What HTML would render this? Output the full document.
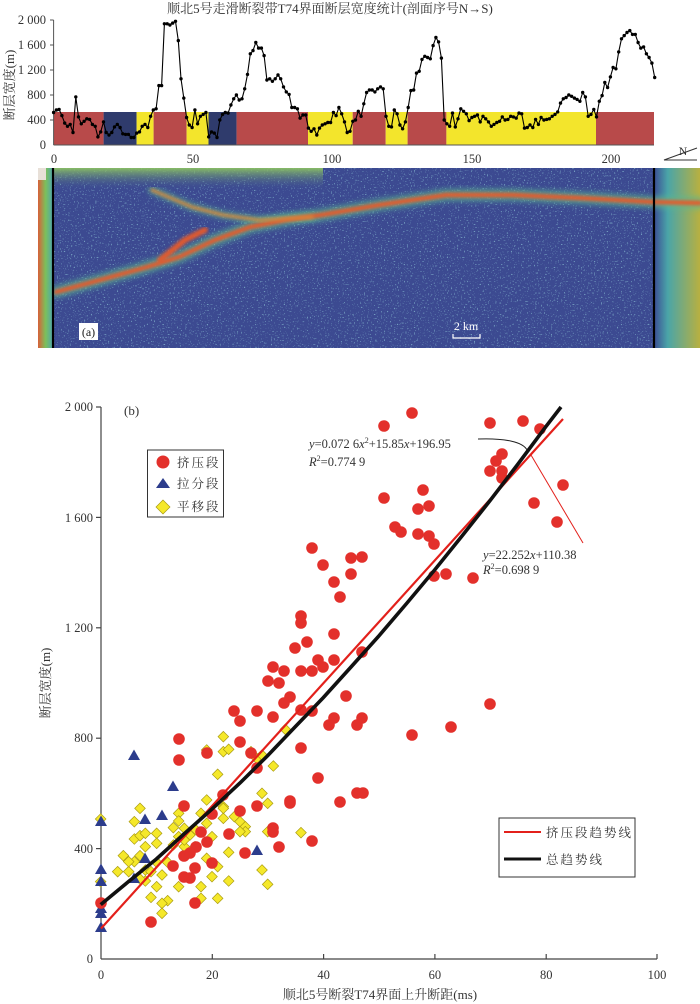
<!DOCTYPE html>
<html><head><meta charset="utf-8"><style>
html,body{margin:0;padding:0;background:#fff;}
svg{display:block;}
text{font-family:"Liberation Serif","Noto Serif CJK SC",serif;fill:#333;}
.cjk{font-family:"Liberation Serif","Noto Serif CJK SC",serif;}
</style></head><body>
<svg width="700" height="1004" viewBox="0 0 700 1004" xmlns="http://www.w3.org/2000/svg">
<defs>
<linearGradient id="lg" x1="0" x2="1"><stop offset="0" stop-color="#d9603a"/><stop offset="0.5" stop-color="#7cc05a"/><stop offset="1" stop-color="#4fa6b0"/></linearGradient>
<linearGradient id="rg" x1="0" x2="1"><stop offset="0" stop-color="#3c4d95"/><stop offset="0.3" stop-color="#4aa5a8"/><stop offset="1" stop-color="#b8b040"/></linearGradient>
<linearGradient id="tg" x1="0" x2="0" y1="0" y2="1"><stop offset="0" stop-color="#8fc860" stop-opacity="0.9"/><stop offset="1" stop-color="#3c4d95" stop-opacity="0"/></linearGradient>
<filter id="bl"><feGaussianBlur stdDeviation="1.6"/></filter>
<filter id="bl2"><feGaussianBlur stdDeviation="3"/></filter>
<filter id="speck" x="0" y="0" width="1" height="1">
<feTurbulence type="fractalNoise" baseFrequency="0.7" numOctaves="1" seed="3"/>
<feColorMatrix type="matrix" values="0 0 0 0 0.35  0 0 0 0 0.75  0 0 0 0 0.8  9 0 0 0 -5.6"/>
</filter>
</defs>

<!-- Top chart -->
<text x="330" y="13" font-size="13" text-anchor="middle" class="cjk">顺北5号走滑断裂带T74界面断层宽度统计(剖面序号N→S)</text>
<g font-size="12.5" text-anchor="end">
<text x="46" y="24">2 000</text><text x="46" y="49">1 600</text><text x="46" y="74">1 200</text><text x="46" y="99">800</text><text x="46" y="124">400</text><text x="46" y="149">0</text>
</g>
<text transform="translate(14,85) rotate(-90)" font-size="13" text-anchor="middle" class="cjk">断层宽度(m)</text>
<g font-size="12.5" text-anchor="middle">
<text x="54" y="163">0</text><text x="193" y="163">50</text><text x="332" y="163">100</text><text x="472" y="163">150</text><text x="611" y="163">200</text>
</g>
<g>
<rect x="53.6" y="112" width="50" height="33" fill="#b84a4a"/>
<rect x="103.6" y="112" width="33" height="33" fill="#2f3b6c"/>
<rect x="136.6" y="112" width="17" height="33" fill="#f3e52c"/>
<rect x="153.6" y="112" width="33" height="33" fill="#b84a4a"/>
<rect x="186.6" y="112" width="21.9" height="33" fill="#f3e52c"/>
<rect x="208.5" y="112" width="28.1" height="33" fill="#2f3b6c"/>
<rect x="236.6" y="112" width="71.4" height="33" fill="#b84a4a"/>
<rect x="308" y="112" width="44.7" height="33" fill="#f3e52c"/>
<rect x="352.7" y="112" width="33" height="33" fill="#b84a4a"/>
<rect x="385.7" y="112" width="21.9" height="33" fill="#f3e52c"/>
<rect x="407.6" y="112" width="38.8" height="33" fill="#b84a4a"/>
<rect x="446.4" y="112" width="149.6" height="33" fill="#f3e52c"/>
<rect x="596" y="112" width="58" height="33" fill="#b84a4a"/>
</g>
<line x1="53.6" y1="20" x2="53.6" y2="145" stroke="#555" stroke-width="1"/>
<line x1="53.6" y1="145" x2="654" y2="145" stroke="#555" stroke-width="1"/>
<g stroke="#555">
<line x1="50" y1="20" x2="53.6" y2="20"/><line x1="50" y1="45" x2="53.6" y2="45"/><line x1="50" y1="70" x2="53.6" y2="70"/><line x1="50" y1="95" x2="53.6" y2="95"/><line x1="50" y1="120" x2="53.6" y2="120"/>
</g>
<g id="topline"></g>
<text x="683" y="155" font-size="12" text-anchor="middle" font-family="Liberation Sans">N</text>
<polyline points="697,148 664,160 697,160" fill="none" stroke="#333" stroke-width="1"/>

<!-- Heatmap -->
<rect x="38" y="168" width="662" height="180" fill="#3c4a91"/>
<rect x="38" y="168" width="662" height="180" filter="url(#speck)" opacity="0.55"/>
<rect x="53" y="168" width="270" height="22" fill="url(#tg)"/>
<rect x="38" y="168" width="15" height="180" fill="url(#lg)"/>
<rect x="38" y="168" width="8" height="12" fill="#e8e0d8"/>
<rect x="654" y="168" width="46" height="180" fill="url(#rg)"/>
<g fill="none" stroke-linecap="round" stroke-linejoin="round">
<polyline points="56,292 100,280 147,267 179,257 215,240 250,227 285,220 321,215 379,205 446,195 513,195 580,198 654,202 700,203" stroke="#5cb890" stroke-width="12" opacity="0.7" filter="url(#bl2)"/>
<polyline points="152,190 192,207 223,215 259,220 312,217" stroke="#5cb890" stroke-width="8" opacity="0.6" filter="url(#bl2)"/>
<polyline points="56,292 100,280 147,267 179,257 215,240 250,227 285,220 321,215 379,205 446,195 513,195 580,198 654,202 700,203" stroke="#e65a2a" stroke-width="4.5" filter="url(#bl)"/>
<polyline points="152,190 192,207 223,215 259,220 312,217" stroke="#d8883a" stroke-width="3" filter="url(#bl)"/>
<polyline points="160,260 185,240 205,230" stroke="#e05a2e" stroke-width="6" filter="url(#bl)"/>
</g>
<line x1="53" y1="168" x2="53" y2="348" stroke="#000" stroke-width="2.2"/>
<line x1="654" y1="168" x2="654" y2="348" stroke="#000" stroke-width="2.2"/>
<rect x="79" y="323" width="19" height="17" fill="#fff"/>
<text x="88.5" y="336" font-size="12" text-anchor="middle" style="fill:#222">(a)</text>
<text x="466" y="330" font-size="12" text-anchor="middle" style="fill:#fff">2 km</text>
<polyline points="453,334 453,338 480,338 480,334" fill="none" stroke="#fff" stroke-width="1.2"/>

<!-- Scatter chart -->
<g stroke="#444" stroke-width="1.2">
<line x1="101" y1="407" x2="101" y2="959"/>
<line x1="101" y1="959" x2="657" y2="959"/>
<line x1="96" y1="407" x2="101" y2="407"/><line x1="96" y1="517.4" x2="101" y2="517.4"/><line x1="96" y1="627.8" x2="101" y2="627.8"/><line x1="96" y1="738.2" x2="101" y2="738.2"/><line x1="96" y1="848.6" x2="101" y2="848.6"/>
<line x1="212.3" y1="954" x2="212.3" y2="959"/><line x1="323.6" y1="954" x2="323.6" y2="959"/><line x1="434.9" y1="954" x2="434.9" y2="959"/><line x1="546.2" y1="954" x2="546.2" y2="959"/><line x1="657" y1="954" x2="657" y2="959"/>
</g>
<g font-size="12.5" text-anchor="end">
<text x="93" y="411">2 000</text><text x="93" y="522">1 600</text><text x="93" y="632">1 200</text><text x="93" y="742">800</text><text x="93" y="853">400</text><text x="93" y="963">0</text>
</g>
<g font-size="12.5" text-anchor="middle">
<text x="101" y="979">0</text><text x="212.3" y="979">20</text><text x="323.6" y="979">40</text><text x="434.9" y="979">60</text><text x="546.2" y="979">80</text><text x="657" y="979">100</text>
</g>
<text x="380" y="999" font-size="13" text-anchor="middle" class="cjk">顺北5号断裂T74界面上升断距(ms)</text>
<text transform="translate(50,683) rotate(-90)" font-size="13" text-anchor="middle" class="cjk">断层宽度(m)</text>
<text x="124" y="415" font-size="13">(b)</text>

<g transform="translate(40,690) scale(0.33333)" fill="#f5e82a" stroke="#a89a10" stroke-width="2">
<g id="dia"></g>
</g>
<g fill="#2c3c8c" id="tri"></g>
<g fill="#e3302b" id="red"></g>

<line x1="101" y1="928.5" x2="563" y2="419" stroke="#e3201b" stroke-width="2.2"/>
<polyline points="100.7,904.6 128,882 156.4,859 184,834 212,809.1 240,783 267.7,755.6 295,727 323.3,697.6 351,667 379,635.8 407,603 434.6,570 462,536 490.3,500.3 518,464 545.9,426.6 561,407" fill="none" stroke="#111" stroke-width="3.6"/>
<path d="M478,439 C505,438 523,442 527,450" fill="none" stroke="#222" stroke-width="1"/>
<line x1="531" y1="455" x2="583" y2="543" stroke="#e3201b" stroke-width="1"/>
<text x="309" y="448" font-size="12.5"><tspan font-style="italic">y</tspan>=0.072 6<tspan font-style="italic">x</tspan><tspan font-size="8" dy="-5">2</tspan><tspan dy="5">+15.85</tspan><tspan font-style="italic">x</tspan>+196.95</text>
<text x="309" y="466" font-size="12.5"><tspan font-style="italic">R</tspan><tspan font-size="8" dy="-5">2</tspan><tspan dy="5">=0.774 9</tspan></text>
<text x="483" y="559" font-size="12.5"><tspan font-style="italic">y</tspan>=22.252<tspan font-style="italic">x</tspan>+110.38</text>
<text x="483" y="574" font-size="12.5"><tspan font-style="italic">R</tspan><tspan font-size="8" dy="-5">2</tspan><tspan dy="5">=0.698 9</tspan></text>

<rect x="147.5" y="450" width="76" height="67" fill="#fff" stroke="#333" stroke-width="1"/>
<circle cx="163" cy="462" r="6.5" fill="#e3302b"/>
<polygon points="163,478 170,488 156,488" fill="#2c3c8c"/>
<polygon points="163,500 170,507 163,514 156,507" fill="#f5e82a" stroke="#a89a10" stroke-width="0.7"/>
<g font-size="12.5" class="cjk" letter-spacing="2"><text x="177" y="467">挤压段</text><text x="177" y="488">拉分段</text><text x="177" y="511">平移段</text></g>

<rect x="499" y="818" width="136" height="59" fill="#fff" stroke="#333" stroke-width="1"/>
<line x1="504" y1="832" x2="541" y2="832" stroke="#e3201b" stroke-width="2"/>
<line x1="504" y1="859" x2="541" y2="859" stroke="#111" stroke-width="3"/>
<g font-size="12.5" class="cjk" letter-spacing="2"><text x="546" y="837">挤压段趋势线</text><text x="546" y="864">总趋势线</text></g>
</svg>
<script>
var NS="http://www.w3.org/2000/svg";
function el(n,a,p){var e=document.createElementNS(NS,n);for(var k in a)e.setAttribute(k,a[k]);p.appendChild(e);return e;}
var v=[520,560,570,470,350,300,330,200,770,450,340,380,420,410,330,300,130,210,370,200,160,200,290,330,280,180,170,170,120,120,190,210,300,330,280,460,560,580,950,950,1940,1940,1920,1950,1980,1670,1060,750,440,320,280,560,340,460,490,520,130,210,190,120,400,490,520,510,640,740,800,720,740,900,1130,1460,1510,1640,1550,1550,1430,1040,1060,1020,1060,1120,1060,930,850,810,600,600,580,430,480,480,270,220,260,160,270,320,340,360,360,520,470,600,500,370,200,220,380,400,540,460,660,840,880,880,850,900,930,900,460,300,290,560,500,320,260,370,600,870,880,1150,1180,1370,1420,1400,1380,1590,1720,1650,1390,400,340,300,510,290,420,580,540,500,390,440,460,480,370,460,420,370,300,330,360,380,450,400,410,460,450,430,510,500,270,280,320,280,410,330,440,400,410,420,460,490,530,670,740,760,800,780,750,730,700,840,770,460,490,570,450,700,790,1000,920,1090,1240,1220,1490,1700,1750,1800,1830,1770,1770,1640,1550,1570,1460,1400,1310,1080];
var g=document.getElementById("topline"),pts=[];
for(var i=0;i<v.length;i++){pts.push((53.6+i*2.77).toFixed(1)+","+(145-v[i]*0.0625).toFixed(1));}
el("polyline",{points:pts.join(" "),fill:"none",stroke:"#000","stroke-width":"1.1"},g);
pts.forEach(function(p){var a=p.split(",");el("circle",{cx:a[0],cy:a[1],r:"1.7",fill:"#000"},g);});
var Y=[[182,387],[182,575],[283,395],[283,447],[300,437],[316,430],[350,430],[350,460],[416,370],[416,393],[400,413],[433,415],[450,435],[416,440],[316,470],[250,497],[266,545],[283,515],[300,497],[316,540],[333,545],[350,517],[366,555],[383,517],[383,632],[366,640],[366,670],[333,622],[350,590],[316,573],[300,567],[416,590],[433,470],[466,418],[483,370],[500,400],[483,590],[483,625],[500,505],[516,560],[533,530],[533,625],[533,253],[550,350],[550,385],[550,355],[583,380],[600,395],[616,410],[616,425],[600,425],[566,487],[566,573],[500,330],[500,180],[550,140],[550,185],[566,178],[633,185],[666,310],[683,340],[683,425],[666,540],[683,583],[700,228],[736,118],[783,428],[650,205],[666,195],[400,465],[433,450],[266,515],[233,545],[300,355],[465,470],[516,440]];
var d=document.getElementById("dia");
Y.forEach(function(p){var x=p[0],y=p[1];el("polygon",{points:x+","+(y-16)+" "+(x+16)+","+y+" "+x+","+(y+16)+" "+(x-16)+","+y},d);});
var T=[[101,821],[101,869],[101,881],[101,908],[101,913],[101,927],[134,755],[173,786],[162,815],[145,819],[145,858],[134,878],[257,850]];
var t=document.getElementById("tri");
T.forEach(function(p){var x=p[0],y=p[1];el("polygon",{points:x+","+(y-5.5)+" "+(x+6)+","+(y+5)+" "+(x-6)+","+(y+5)},t);});
var R=[[312,548],[323,565],[351,558],[362,557],[351,574],[334,582],[340,597],[301,616],[301,623],[307,642],[295,648],[318,660],[323,667],[334,660],[334,634],[362,652],[273,667],[284,671],[301,671],[312,671],[268,681],[279,683],[384,426],[412,413],[490,423],[523,421],[540,429],[502,454],[496,461],[490,471],[502,471],[502,478],[563,485],[384,498],[423,490],[418,509],[429,506],[534,503],[557,522],[395,527],[401,532],[418,534],[429,536],[434,544],[434,576],[446,574],[473,578],[412,735],[451,727],[490,704],[346,696],[290,697],[284,703],[234,711],[257,711],[273,717],[240,721],[301,710],[312,711],[334,718],[329,725],[357,725],[362,718],[179,739],[240,742],[179,760],[207,753],[251,753],[257,768],[301,748],[318,778],[184,806],[240,811],[212,814],[223,795],[257,806],[273,828],[273,832],[290,801],[290,803],[340,802],[357,793],[363,793],[201,832],[207,842],[229,834],[279,847],[312,841],[245,853],[184,856],[196,847],[190,853],[173,866],[212,863],[195,868],[184,877],[190,878],[195,903],[151,922],[101,903]];
var r=document.getElementById("red");
R.forEach(function(p){el("circle",{cx:p[0],cy:p[1],r:"5.8"},r);});
</script>
</body></html>
